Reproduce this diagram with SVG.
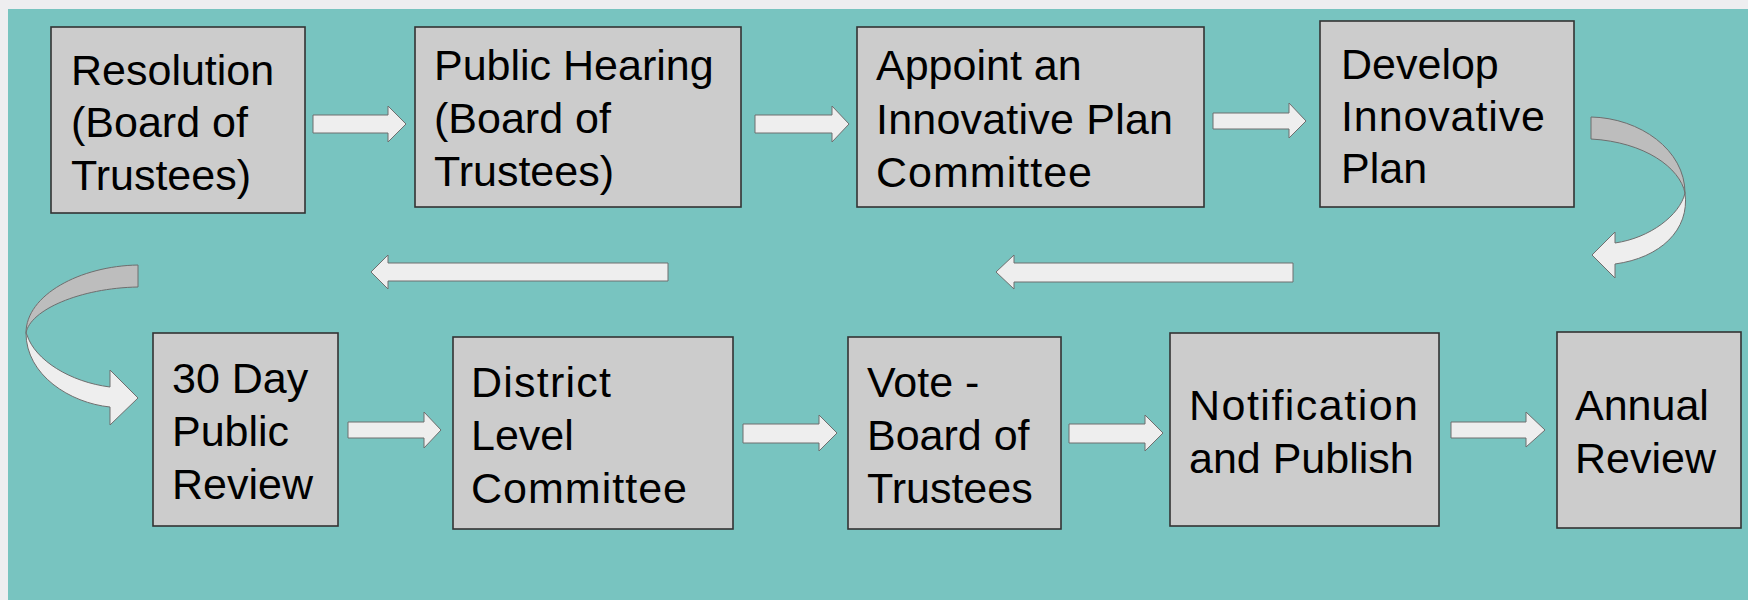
<svg xmlns="http://www.w3.org/2000/svg" width="1748" height="600" viewBox="0 0 1748 600">
<style>
.box{fill:#cccccc;stroke:#333333;stroke-width:1.6}
.lbl{font-family:"Liberation Sans",Arial,sans-serif;font-size:43px;fill:#000000}
.arr{fill:#eeeeee;stroke:#6e6e6e;stroke-width:1}
.arrg{fill:#bdbdbd;stroke:#6e6e6e;stroke-width:1}
</style>
<rect x="0" y="0" width="1748" height="600" fill="#eeeef0"/>
<rect x="8" y="9" width="1740" height="591" fill="#78c4c0"/>
<g id="connectors">
<path class="arr" d="M313,115 L388,115 L388,106 L406,124 L388,142 L388,133 L313,133 Z"/>
<path class="arr" d="M755,115 L832,115 L832,106 L849,124 L832,142 L832,133 L755,133 Z"/>
<path class="arr" d="M1213,113 L1289,113 L1289,103 L1306,121 L1289,138 L1289,129 L1213,129 Z"/>
<path class="arrg" d="M1591,117 C1640,118 1685,150 1685,193 C1680,168 1645,142 1591,139 Z"/>
<path class="arr" d="M1685,193 C1690,230 1660,258 1615,264 L1615,278 L1592,255 L1615,232 L1615,243 C1650,238 1680,215 1685,193 Z"/>
<path class="arr" d="M1293,263 L1014,263 L1014,255 L996,272 L1014,289 L1014,282 L1293,282 Z"/>
<path class="arr" d="M668,263 L388,263 L388,255 L371,272 L388,289 L388,281 L668,281 Z"/>
<path class="arrg" d="M138,265 C80,266 26,295 26,333 C30,310 80,288 138,287 Z"/>
<path class="arr" d="M26,333 C26,375 70,403 110,407 L110,425 L138,398 L110,370 L110,387 C70,382 35,360 27,335 Z"/>
<path class="arr" d="M348,422 L424,422 L424,412 L441,430 L424,448 L424,438 L348,438 Z"/>
<path class="arr" d="M743,424 L819,424 L819,415 L837,433 L819,451 L819,443 L743,443 Z"/>
<path class="arr" d="M1069,424 L1145,424 L1145,415 L1163,433 L1145,451 L1145,443 L1069,443 Z"/>
<path class="arr" d="M1451,422 L1526,422 L1526,412 L1545,430 L1526,447 L1526,438 L1451,438 Z"/>
</g>
<g id="n1"><rect class="box" x="51" y="27" width="254" height="186"/>
<text class="lbl"><tspan x="71" y="85">Resolution</tspan><tspan x="71" y="137">(Board of</tspan><tspan x="71" y="190">Trustees)</tspan></text></g>
<g id="n2"><rect class="box" x="415" y="27" width="326" height="180"/>
<text class="lbl"><tspan x="434" y="80">Public Hearing</tspan><tspan x="434" y="133">(Board of</tspan><tspan x="434" y="186">Trustees)</tspan></text></g>
<g id="n3"><rect class="box" x="857" y="27" width="347" height="180"/>
<text class="lbl" x="876" y="80">Appoint an</text>
<text class="lbl" x="876" y="134" textLength="297" lengthAdjust="spacing">Innovative Plan</text>
<text class="lbl" x="876" y="187" textLength="216" lengthAdjust="spacing">Committee</text></g>
<g id="n4"><rect class="box" x="1320" y="21" width="254" height="186"/>
<text class="lbl" x="1341" y="79">Develop</text>
<text class="lbl" x="1341" y="131" textLength="204" lengthAdjust="spacing">Innovative</text>
<text class="lbl" x="1341" y="183">Plan</text></g>
<g id="n5"><rect class="box" x="153" y="333" width="185" height="193"/>
<text class="lbl"><tspan x="172" y="393">30 Day</tspan><tspan x="172" y="446">Public</tspan><tspan x="172" y="499">Review</tspan></text></g>
<g id="n6"><rect class="box" x="453" y="337" width="280" height="192"/>
<text class="lbl" x="471" y="397" textLength="140" lengthAdjust="spacing">District</text>
<text class="lbl" x="471" y="450">Level</text>
<text class="lbl" x="471" y="503" textLength="216" lengthAdjust="spacing">Committee</text></g>
<g id="n7"><rect class="box" x="848" y="337" width="213" height="192"/>
<text class="lbl"><tspan x="867" y="397">Vote -</tspan><tspan x="867" y="450">Board of</tspan><tspan x="867" y="503">Trustees</tspan></text></g>
<g id="n8"><rect class="box" x="1170" y="333" width="269" height="193"/>
<text class="lbl" x="1189" y="420" textLength="229" lengthAdjust="spacing">Notification</text>
<text class="lbl" x="1189" y="473">and Publish</text></g>
<g id="n9"><rect class="box" x="1557" y="332" width="184" height="196"/>
<text class="lbl"><tspan x="1575" y="420">Annual</tspan><tspan x="1575" y="473">Review</tspan></text></g>
</svg>
